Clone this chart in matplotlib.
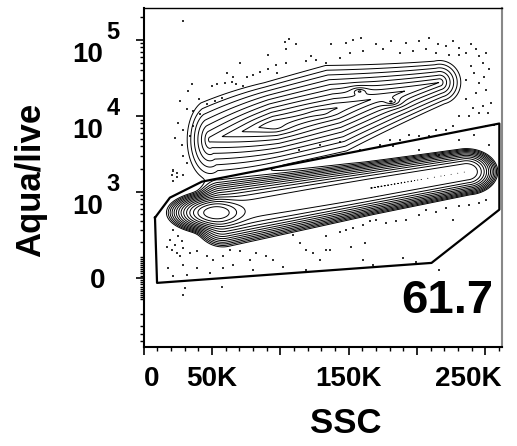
import numpy as np
import matplotlib.pyplot as plt
from matplotlib import transforms

plt.rcParams['font.family'] = ['Liberation Sans', 'DejaVu Sans']
plt.rcParams['font.weight'] = 'bold'

# biexponential-like display for the Aqua channel
W = 150.0
def fwd(y):
    return np.arcsinh(np.asarray(y, dtype=float) / W) / np.log(10)

def inv(u):
    return W * np.sinh(np.asarray(u, dtype=float) * np.log(10))

# live band: segment ends (SSC K, Aqua raw), end-cap width (K),
# half-width profile (decades), log height profile, falloff power
band_ssc = [58, 236]
band_aqua = [516, 1849]
band_sx = 11.0
band_t = [0.0, 0.6, 1.0]
band_su = [0.215, 0.165, 0.145]
band_h = [5.2, 5.5, 5.5]
band_p = 2.3

# bright live blob
blob_ssc, blob_aqua = 52, 527
blob_sx, blob_su, blob_h = 13.5, 0.11, 6.8

# dead cells: tilted ridge with exponential falloff and a few local peaks
dead_ssc = [48.6, 216.4]
dead_aqua = [4900, 27600]
dead_sx = 5.2
dead_t = [0.0, 0.28, 0.55, 1.0]
dead_su = [0.164, 0.117, 0.132, 0.096]
dead_h = [3.2, 4.8, 4.5, 3.0]
peak_ssc = [96, 130, 158, 181]
peak_aqua = [7300, 11000, 21000, 15500]
peak_sx = [6, 7, 3.0, 3.0]
peak_su = [0.04, 0.04, 0.025, 0.025]
peak_h = [4.0, 3.6, 3.9, 3.9]

# events outside the lowest contour
dot_ssc = [103.8, 106.4, 111.8, 104.5, 90.7, 70.4, 97.2, 104.5, 122.8, 126.4, 119.1,
           61.2, 65.6, 75.8, 80.2, 85.0, 91.1, 97.7, 35.6, 32.7, 49.8, 53.4, 59.5,
           64.4, 68.0, 72.9, 26.6, 40.7, 46.1, 52.2, 57.1, 36.4, 41.2, 31.5, 25.4,
           23.0, 29.1, 33.9, 36.4, 27.9, 29.1, 31.5, 21.8, 24.2, 29.1,
           137.4, 148.3, 153.2, 159.3, 170.2, 181.2, 192.1, 201.8, 209.1, 215.2,
           221.3, 226.2, 231.0, 235.9, 239.6, 243.2, 245.6, 248.1, 250.5, 252.9,
           249.3, 245.6, 243.2, 250.5, 254.2, 248.1, 240.8, 235.9, 238.3, 245.6,
           251.7, 231.0, 226.2, 221.3, 214.0, 209.1, 201.8, 194.5, 187.2, 179.9,
           172.6, 182.4, 235.9, 250.5, 231.0, 239.6, 242.0, 235.9, 133.7, 143.4,
           150.7, 160.5, 175.1, 187.2, 197.0, 206.7, 223.7, 214.0,
           114.0, 128.8, 143.4, 158.0, 201.8, 216.4, 231.0, 242.0, 252.9, 256.6,
           21.8, 20.6, 24.2, 21.8, 16.9, 20.6, 24.2, 26.6, 23.0, 29.1, 33.9, 38.8,
           46.1, 51.0, 58.3, 63.1, 70.4, 77.7, 82.6, 89.9, 94.8, 102.1, 109.4,
           114.2, 119.1, 124.0, 128.8, 133.7, 18.1, 29.1, 38.8, 58.3, 65.6, 80.2,
           119.1, 21.8, 31.5, 48.5, 30.3, 57.1, 29.1, 21.8, 25.4, 19.3, 27.9,
           133.7, 143.4, 148.3, 153.2, 160.5, 165.3, 170.2, 177.5, 184.8, 192.1,
           201.8, 206.7, 214.0, 221.3, 231.0, 238.3, 245.6, 250.5, 226.2, 152.0,
           161.7, 189.7, 160.5, 199.4, 136.1, 216.4, 167.8,
           28.8, 47.1, 58.0, 109.0, 178.0, 211.0, 221.0, 241.0]
dot_aqua = [95000, 102000, 87000, 75000, 64000, 49000, 47000, 50000, 61000, 55000, 52000,
            37000, 33000, 33000, 35000, 38000, 41000, 37000, 26000, 21000, 25000, 26000, 27000,
            28000, 26000, 25000, 15700, 16500, 14200, 15700, 17300, 11600, 10500, 12200, 8100,
            5200, 6600, 5400, 7400, 4200, 3000, 2400, 1900, 1600, 1700,
            87000, 92000, 100000, 107000, 87000, 96000, 92000, 96000, 107000, 87000,
            83000, 96000, 79000, 68000, 87000, 75000, 61000, 50000, 68000, 41000,
            33000, 27000, 20000, 22000, 15000, 13500, 12800, 16500, 9900, 11000,
            11000, 9900, 7400, 6600, 6600, 5400, 5400, 5700, 4900, 4900,
            4200, 4000, 6600, 7400, 64000, 45000, 37000, 30000, 50000, 58000,
            68000, 71000, 75000, 68000, 71000, 75000, 64000, 68000,
            3600, 4200, 4600, 3600, 3600, 3100, 4900, 5700, 4200, 7700,
            1980, 1700, 1800, 1390, 164, 143, 123, 104, 176, 155, 123, 133,
            104, 86, 104, 143, 133, 86, 123, 104, 86, 52, 255,
            189, 143, 123, 86, 143, 45, 61, 45, 45, 61, 37,
            37, 8, 14, 23, -48, -43, -81, 304, 242, 213, 205,
            242, 285, 304, 321, 358, 399, 421, 376, 399, 421,
            495, 579, 536, 612, 640, 677, 720, 790, 421, 164,
            189, 95, 86, 77, 143, 37, 61,
            175000, -590, -590, -590, -590, -590, -590, -590]

# gate polygon vertices
gate_ssc = [8.4, 19.3, 42.7, 260.2, 260.2, 210.6, 9.9, 8.4]
gate_aqua = [450, 840, 1370, 7970, 580, 70, -23, 450]
gate_pct = 61.7

x_max = 262.144
y_min, y_max = -598, 262144

xs = np.linspace(0, x_max, 600)
us = np.linspace(fwd(y_min), fwd(y_max), 600)
X, U = np.meshgrid(xs, us)
ASPECT = 0.018  # decades per K on screen


def ridge(x0, y0, x1, y1, sx, ts, sus):
    """Normalised distance to a segment and position along it."""
    u0, u1 = fwd(y0), fwd(y1)
    vx, vu = x1 - x0, (u1 - u0) / ASPECT
    t = ((X - x0) * vx + (U - u0) / ASPECT * vu) / (vx**2 + vu**2)
    t = np.clip(t, 0, 1)
    su = np.interp(t, ts, sus)
    dx = (X - (x0 + t * (x1 - x0))) / sx
    du = (U - (u0 + t * (u1 - u0))) / su
    return np.hypot(dx, du), t


def bump(mx, my, sx, su):
    return np.hypot((X - mx) / sx, (U - fwd(my)) / su)


d_band, t_band = ridge(band_ssc[0], band_aqua[0], band_ssc[1], band_aqua[1],
                       band_sx, band_t, band_su)
Z = np.exp(np.interp(t_band, band_t, band_h) - d_band ** band_p)
Z += np.exp(blob_h - bump(blob_ssc, blob_aqua, blob_sx, blob_su) ** 2)
d_dead, t_dead = ridge(dead_ssc[0], dead_aqua[0], dead_ssc[1], dead_aqua[1],
                       dead_sx, dead_t, dead_su)
Z += np.exp(np.interp(t_dead, dead_t, dead_h) - d_dead)
for mx, my, sx, su, h in zip(peak_ssc, peak_aqua, peak_sx, peak_su, peak_h):
    Z += np.exp(h - bump(mx, my, sx, su))

# log-density contour levels
levels = np.exp(np.arange(0, np.log(Z.max()), 0.5))

fig = plt.figure(figsize=(5.17, 4.46), dpi=100)
ax = fig.add_axes([143.5 / 517, 1 - 347 / 446, 358.5 / 517, 339 / 446])
ax.set_yscale('function', functions=(fwd, inv))
ax.set_xlim(0, x_max * 1000)
ax.set_ylim(y_min, y_max)

ax.contour(X * 1000, inv(U), Z, levels=levels, colors='k', linewidths=0.7)
ax.scatter(np.array(dot_ssc) * 1000, dot_aqua, s=1.6, marker='s', c='#333333', linewidths=0)
ax.plot(np.array(gate_ssc) * 1000, gate_aqua, color='k', lw=1.6)

ax.text(0.975, 0.100, f'{gate_pct:.1f}', transform=ax.transAxes, ha='right', va='baseline',
        fontsize=34, fontweight='bold')

# ticks
ax.set_xticks(np.arange(0, 262001, 50000))
ax.set_xticks(np.arange(0, 262001, 10000), minor=True)
major_y = [0, 1e3, 1e4, 1e5]
minor_y = []
for n in range(1, 6):
    for k in range(1, 10):
        for v in (k * 10**n, -k * 10**n):
            if y_min <= v <= y_max and v not in major_y:
                minor_y.append(v)
ax.set_yticks(major_y)
ax.set_yticks(minor_y, minor=True)
ax.tick_params(which='major', direction='out', length=6, width=1.2, labelleft=False, labelbottom=False)
ax.tick_params(which='minor', direction='out', length=3, width=1.0)

for side in ('left', 'bottom'):
    ax.spines[side].set_linewidth(1.5)
ax.spines['top'].set_linewidth(1.0)
ax.spines['right'].set_linewidth(1.5)
ax.spines['right'].set_color('#888888')

# tick labels
xt = ax.get_xaxis_transform()
xlab = transforms.offset_copy(xt, fig=fig, y=-39, units='dots')
ax.text(0, 0, '0', transform=xlab, ha='left', va='baseline', fontsize=20)
ax.text(50000, 0, '50K', transform=xlab, ha='center', va='baseline', fontsize=20)
ax.text(150000, 0, '150K', transform=xlab, ha='center', va='baseline', fontsize=20)
ax.text(x_max * 1000, 0, '250K', transform=xlab, ha='right', va='baseline', fontsize=20)

yt = ax.get_yaxis_transform()
for e in (3, 4, 5):
    base = transforms.offset_copy(yt, fig=fig, x=-40.5, y=-22, units='dots')
    sup = transforms.offset_copy(yt, fig=fig, x=-37, y=1, units='dots')
    ax.text(0, 10**e, '10', transform=base, ha='right', va='baseline', fontsize=20)
    ax.text(0, 10**e, str(e), transform=sup, ha='left', va='baseline', fontsize=17)
zero = transforms.offset_copy(yt, fig=fig, x=-38.5, y=-10, units='dots')
ax.text(0, 0, '0', transform=zero, ha='right', va='baseline', fontsize=20)

fig.text(346 / 517, 13 / 446, 'SSC', ha='center', va='baseline', fontsize=25, fontweight='bold')
fig.text(31 / 517, 1 - 180 / 446, 'Aqua/live', rotation=90, ha='center', va='center',
         fontsize=25, fontweight='bold')

fig.savefig('out.png', dpi=100)
